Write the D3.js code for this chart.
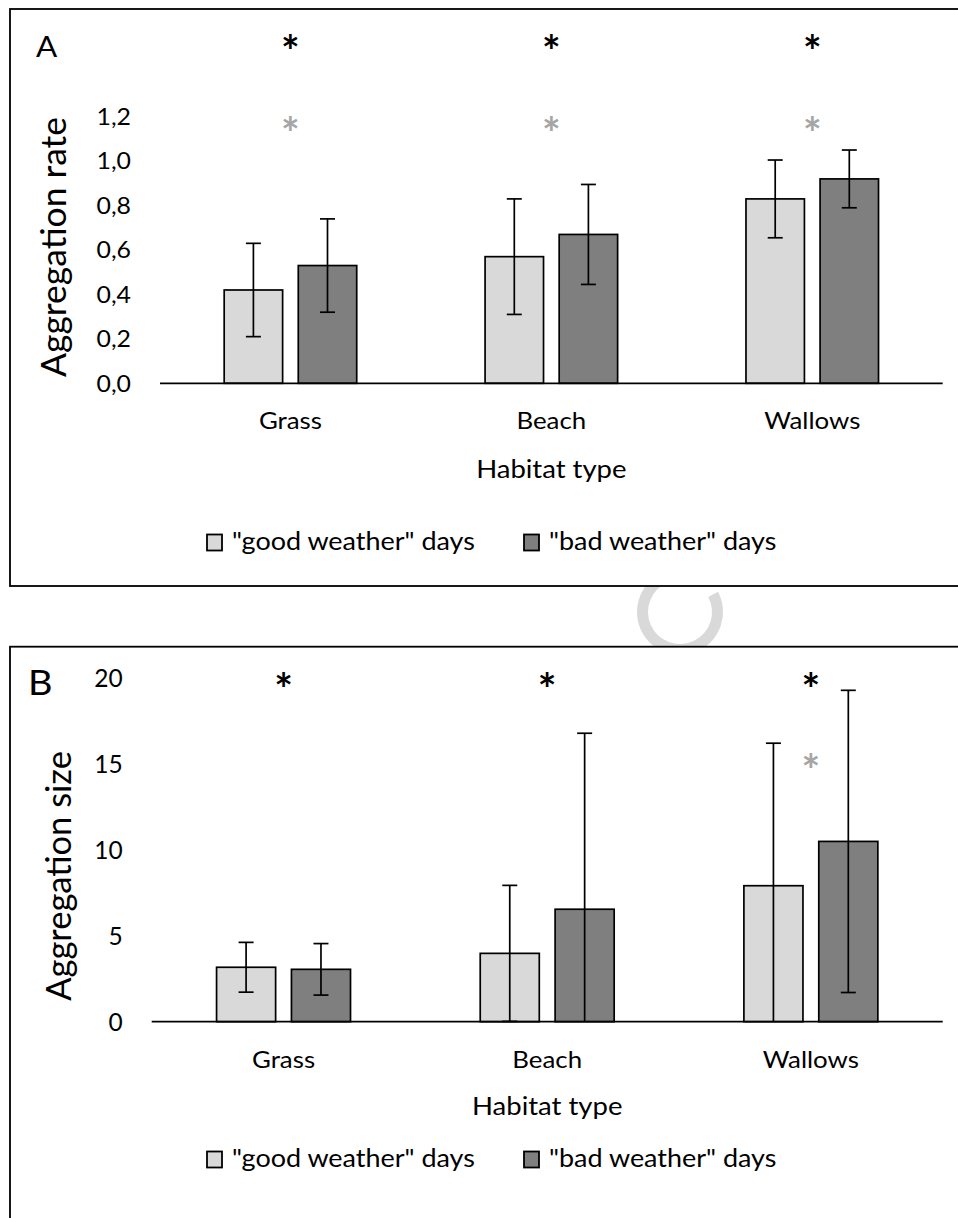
<!DOCTYPE html>
<html><head><meta charset="utf-8">
<script src="https://cdn.jsdelivr.net/npm/d3@7"></script>
<style>
body{margin:0;background:#fff}
svg{display:block}
text{font-family:Lato,'Open Sans',sans-serif;fill:#000}
</style>
</head><body>
<svg id="chart" width="958" height="1218"></svg>
<script>
// ---------------- data ----------------
const categories = ["Grass", "Beach", "Wallows"];
const seriesNames = ['"good weather" days', '"bad weather" days'];
const seriesColors = ["#d9d9d9", "#7f7f7f"];

// Panel A: aggregation rate
const rateGood = [0.42, 0.57, 0.83];
const rateGoodErr = [0.21, 0.26, 0.175];
const rateBad = [0.53, 0.67, 0.92];
const rateBadErr = [0.21, 0.225, 0.13];
const rateTicks = [0, 0.2, 0.4, 0.6, 0.8, 1.0, 1.2];
const rateTickLabels = ["0,0", "0,2", "0,4", "0,6", "0,8", "1,0", "1,2"];
const rateStarBlack = [1.53, 1.53, 1.53];
const rateStarGrey = [1.16, 1.16, 1.16];

// Panel B: aggregation size
const sizeGood = [3.17, 3.98, 7.92];
const sizeGoodErr = [1.45, 3.96, 8.3];
const sizeBad = [3.05, 6.55, 10.5];
const sizeBadErr = [1.5, 10.25, 8.8];
const sizeTicks = [0, 5, 10, 15, 20];
const sizeTickLabels = ["0", "5", "10", "15", "20"];
const sizeStarBlack = [19.8, 19.8, 19.8];
const sizeStarGrey = [null, null, 15.1];

// ---------------- drawing ----------------
const svg = d3.select("#chart");
const SX = 1.1; // horizontal stretch of the reference lettering

function addText(g, str, x, yBase, size, opts = {}){
  const sx = opts.sx == null ? SX : opts.sx;
  const t = g.append("text").text(str)
    .attr("x", 0).attr("y", 0)
    .attr("transform", `translate(${x},${yBase}) scale(${sx},1)`)
    .attr("text-anchor", opts.anchor || "start")
    .style("font-size", size + "px");
  if (opts.weight) t.style("font-weight", opts.weight);
  if (opts.fill) t.style("fill", opts.fill);
  return t;
}

// faint watermark fragment peeking out between the two panels
svg.append("path")
  .attr("transform", "translate(680,612)")
  .attr("d", d3.arc()({innerRadius: 32, outerRadius: 43,
    startAngle: 62 * Math.PI / 180, endAngle: 338 * Math.PI / 180}))
  .attr("fill", "#d9d9d9");

function drawPanel(cfg){
  const g = svg.append("g");
  g.append("rect")
    .attr("x", cfg.frame[0]).attr("y", cfg.frame[1])
    .attr("width", cfg.frame[2]).attr("height", cfg.frame[3])
    .attr("fill", "#fff").attr("stroke", "#000").attr("stroke-width", 1.8);

  const x = d3.scaleBand().domain(categories).range(cfg.xRange).padding(0);
  const y = d3.scaleLinear().domain(cfg.domain).range(cfg.yRange);
  const bw = x.bandwidth() * 0.224, gap = x.bandwidth() * 0.06;
  const cx = c => x(c) + x.bandwidth() / 2;

  // panel letter
  addText(g, cfg.letter, cfg.letterPos[0], cfg.letterPos[1], cfg.letterSize);

  // y tick labels
  cfg.ticks.forEach((v, i) => {
    addText(g, cfg.tickLabels[i], cfg.tickX, y(v) + 0.36 * cfg.tickSize, cfg.tickSize,
      {anchor: "end", sx: cfg.tickSX});
  });

  // y title (rotated)
  g.append("text").text(cfg.yTitle)
    .attr("transform", `translate(${cfg.yTitlePos[0]},${cfg.yTitlePos[1]}) rotate(-90)`)
    .attr("text-anchor", "middle")
    .style("font-size", cfg.yTitleSize + "px");

  // bars
  const series = [
    {name: seriesNames[0], vals: cfg.good, errs: cfg.goodErr, color: seriesColors[0], off: -gap / 2 - bw},
    {name: seriesNames[1], vals: cfg.bad, errs: cfg.badErr, color: seriesColors[1], off: gap / 2}
  ];
  series.forEach(s => {
    g.selectAll(null).data(categories).enter().append("rect")
      .attr("x", c => cx(c) + s.off)
      .attr("y", (c, i) => y(s.vals[i]))
      .attr("width", bw)
      .attr("height", (c, i) => y(0) - y(s.vals[i]))
      .attr("fill", s.color).attr("stroke", "#000").attr("stroke-width", 1.7);
  });

  // baseline axis
  g.append("line")
    .attr("x1", cfg.xRange[0]).attr("x2", cfg.xRange[1])
    .attr("y1", y(0)).attr("y2", y(0))
    .attr("stroke", "#000").attr("stroke-width", 1.7);

  // error bars
  const capHalf = 7.5;
  series.forEach(s => {
    categories.forEach((c, i) => {
      const xm = cx(c) + s.off + bw / 2;
      const hi = s.vals[i] + s.errs[i];
      const loRaw = s.vals[i] - s.errs[i];
      const lo = Math.max(0, loRaw);
      g.append("line").attr("x1", xm).attr("x2", xm)
        .attr("y1", y(hi)).attr("y2", y(lo))
        .attr("stroke", "#000").attr("stroke-width", 1.7);
      g.append("line").attr("x1", xm - capHalf).attr("x2", xm + capHalf)
        .attr("y1", y(hi)).attr("y2", y(hi))
        .attr("stroke", "#000").attr("stroke-width", 1.7);
      if (loRaw > 0) {
        g.append("line").attr("x1", xm - capHalf).attr("x2", xm + capHalf)
          .attr("y1", y(lo)).attr("y2", y(lo))
          .attr("stroke", "#000").attr("stroke-width", 1.7);
      }
    });
  });

  // significance asterisks
  const starSize = 44;
  [[cfg.starBlack, "#000"], [cfg.starGrey, "#a6a6a6"]].forEach(([arr, col]) => {
    categories.forEach((c, i) => {
      if (arr[i] == null) return;
      addText(g, "*", cx(c), y(arr[i]) + 0.54 * starSize, starSize,
        {anchor: "middle", weight: "bold", fill: col, sx: 1});
    });
  });

  // category labels
  categories.forEach(c => addText(g, c, cx(c), cfg.catY, cfg.catSize, {anchor: "middle"}));

  // x title
  addText(g, "Habitat type", (cfg.xRange[0] + cfg.xRange[1]) / 2, cfg.xTitleY, cfg.xTitleSize,
    {anchor: "middle"});

  // legend
  const legX = [206, 523];
  series.forEach((s, i) => {
    g.append("rect")
      .attr("x", legX[i] + 1).attr("y", cfg.legendY - 8)
      .attr("width", 15).attr("height", 16)
      .attr("fill", s.color).attr("stroke", "#000").attr("stroke-width", 1.8);
    addText(g, s.name, legX[i] + 26, cfg.legendY + 7.5, cfg.legendSize);
  });
}

drawPanel({
  frame: [10, 9, 960, 577],
  letter: "A", letterPos: [36, 57.3], letterSize: 28.5,
  domain: [0, 1.2], yRange: [383.3, 116.7], xRange: [160, 942.7],
  ticks: rateTicks, tickLabels: rateTickLabels, tickX: 131, tickSize: 23, tickSX: 1.08,
  yTitle: "Aggregation rate", yTitlePos: [65.5, 247], yTitleSize: 35.5,
  good: rateGood, goodErr: rateGoodErr, bad: rateBad, badErr: rateBadErr,
  starBlack: rateStarBlack, starGrey: rateStarGrey,
  catY: 429.3, catSize: 23.5, xTitleY: 478.3, xTitleSize: 25,
  legendY: 542.5, legendSize: 24.5
});

drawPanel({
  frame: [10, 646.7, 960, 600],
  letter: "B", letterPos: [28, 695], letterSize: 34.5,
  domain: [0, 20], yRange: [1021.7, 678.3], xRange: [151.7, 942.7],
  ticks: sizeTicks, tickLabels: sizeTickLabels, tickX: 122.7, tickSize: 24.5, tickSX: 1,
  yTitle: "Aggregation size", yTitlePos: [71, 876], yTitleSize: 34.5,
  good: sizeGood, goodErr: sizeGoodErr, bad: sizeBad, badErr: sizeBadErr,
  starBlack: sizeStarBlack, starGrey: sizeStarGrey,
  catY: 1068, catSize: 23.5, xTitleY: 1115, xTitleSize: 25,
  legendY: 1159.5, legendSize: 24.5
});
</script>
</body></html>
